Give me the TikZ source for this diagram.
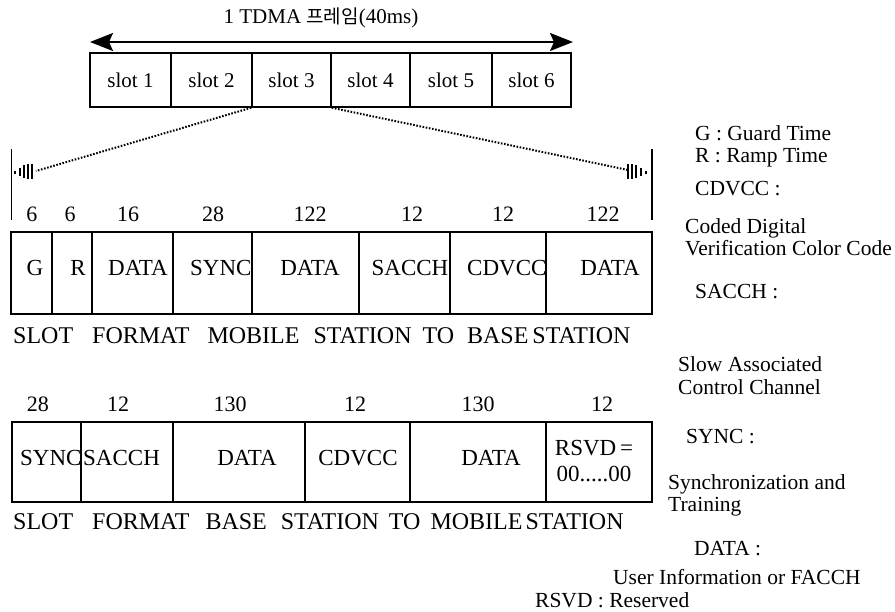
\documentclass[tikz,border=0pt]{standalone}
\usepackage{fontspec}
\setmainfont{Liberation Serif}
\newfontfamily\kr{Noto Sans CJK KR}
\usetikzlibrary{arrows.meta}
\begin{document}
\begin{tikzpicture}[x=1pt,y=-1pt,
  slotbox/.style={draw, line width=1.5pt, inner sep=0pt, minimum height=54pt, font=\fontsize{21}{23}\selectfont},
  cellline/.style={line width=1.7pt},
  lbl/.style={inner sep=0pt, font=\fontsize{23}{25}\selectfont},
  num/.style={inner sep=0pt, font=\fontsize{22}{24}\selectfont},
  leg/.style={inner sep=0pt, anchor=west, font=\fontsize{21.5}{23}\selectfont},
  fmt/.style={inner sep=0pt, anchor=west, font=\fontsize{24}{26}\selectfont},
  dots/.style={line width=2pt, dash pattern=on 1.6pt off 1.6pt},
  bar/.style={line width=1.9pt},
  tick/.style={line width=1.1pt},
  ]
\useasboundingbox (0,0) rectangle (895,612);

% title and frame arrow
\node[inner sep=0pt, font=\fontsize{21}{23}\selectfont] (title) at (321,18) {1 TDMA {\kr\fontsize{19}{21}\selectfont 프레임}(40ms)};
\coordinate (al) at (90,42);
\coordinate (ar) at (573,42);
\draw[line width=2pt, {Stealth[length=23pt,width=18pt,inset=4pt]}-{Stealth[length=23pt,width=18pt,inset=4pt]}] (al) -- (ar);

% slots
\node[slotbox, minimum width=81pt] (s1) at (130.5,80) {slot 1};
\node[slotbox, minimum width=81pt] (s2) at (211.5,80) {slot 2};
\node[slotbox, minimum width=79pt] (s3) at (291.5,80) {slot 3};
\node[slotbox, minimum width=79pt] (s4) at (370.5,80) {slot 4};
\node[slotbox, minimum width=82pt] (s5) at (451,80) {slot 5};
\node[slotbox, minimum width=79pt] (s6) at (531.5,80) {slot 6};

% expansion
\coordinate (lend) at (36,171);
\coordinate (rend) at (628,170);
\draw[dots] (s3.south west) -- (lend);
\draw[dots] (s3.south east) -- (rend);
\coordinate (lbt) at (11.5,149); \coordinate (lbb) at (11.5,220);
\coordinate (rbt) at (652,149); \coordinate (rbb) at (652,220);
\draw[bar] (lbt) -- (lbb);
\draw[bar] (rbt) -- (rbb);
% ramp ticks
\draw[tick] (15,171) -- (15,174);
\draw[tick] (20,168) -- (20,176);
\draw[tick] (24,165) -- (24,178);
\draw[tick] (28,164) -- (28,179);
\draw[tick] (32,164) -- (32,179);
\draw[tick] (628,164) -- (628,179);
\draw[tick] (632,164) -- (632,179);
\draw[tick] (636,165) -- (636,178);
\draw[tick] (641,168) -- (641,176);
\draw[tick] (646,171) -- (646,174);

% mobile -> base numbers
\node[num] (m1n) at (32,214) {6};
\node[num] (m2n) at (70,214) {6};
\node[num] (m3n) at (128,214) {16};
\node[num] (m4n) at (213,214) {28};
\node[num] (m5n) at (310,214) {122};
\node[num] (m6n) at (412,214) {12};
\node[num] (m7n) at (503,214) {12};
\node[num] (m8n) at (603,214) {122};

% mobile -> base texts
\node[lbl] (m1t) at (35,268) {G};
\node[lbl] (m2t) at (78,268) {R};
\node[lbl, anchor=west] (m3t) at (108,268) {DATA};
\node[lbl, anchor=west] (m4t) at (190,268) {SYNC};
\node[lbl] (m5t) at (310,268) {DATA};
\node[lbl] (m6t) at (410,268) {SACCH};
\node[lbl, anchor=west] (m7t) at (467,268) {CDVCC};
\node[lbl] (m8t) at (610,268) {DATA};

% mobile -> base cells
\foreach \a/\b in {11/52,52/92,92/173,173/252,252/359,359/450,450/546,546/652}
  \draw[cellline] (\a,232) rectangle (\b,314);

\node[fmt] (mfmt) at (13,336) {SLOT\hspace{19pt}FORMAT\hspace{18pt}MOBILE\hspace{14pt}STATION\hspace{11pt}TO\hspace{13pt}BASE\hspace{4pt}STATION};

% base -> mobile numbers
\node[num] (b1n) at (38,404) {28};
\node[num] (b2n) at (118,404) {12};
\node[num] (b3n) at (230,404) {130};
\node[num] (b4n) at (355,404) {12};
\node[num] (b5n) at (478,404) {130};
\node[num] (b6n) at (602,404) {12};

% base -> mobile texts
\node[lbl, anchor=west] (b1t) at (20,458) {SYNC};
\node[lbl, anchor=west] (b2t) at (83,458) {SACCH};
\node[lbl] (b3t) at (247,458) {DATA};
\node[lbl] (b4t) at (358,458) {CDVCC};
\node[lbl] (b5t) at (491,458) {DATA};
\node[lbl] (b6t) at (594,448) {RSVD\,=};
\node[lbl] (b6u) at (594,474) {00.....00};

\foreach \a/\b in {12/81,81/173,173/305,305/410,410/546,546/652}
  \draw[cellline] (\a,422) rectangle (\b,502);

\node[fmt] (bfmt) at (13,522) {SLOT\hspace{19pt}FORMAT\hspace{16pt}BASE\hspace{14pt}STATION\hspace{10pt}TO\hspace{10pt}MOBILE\hspace{3pt}STATION};

% legend
\node[leg] (lg1) at (695,133) {G : Guard Time};
\node[leg] (lg2) at (695,158) {R : Ramp Time};
\node[leg] (lg3) at (695,189) {CDVCC :};
\node[leg] (lg4) at (685,228) {Coded Digital};
\node[leg] (lg5) at (685,248) {Verification Color Code};
\node[leg] (lg6) at (695,292) {SACCH :};
\node[leg] (lg7) at (678,364) {Slow Associated};
\node[leg] (lg8) at (678,387) {Control Channel};
\node[leg] (lg9) at (686,437) {SYNC :};
\node[leg] (lg10) at (668,484) {Synchronization and};
\node[leg] (lg11) at (668,507) {Training};
\node[leg] (lg12) at (694,549) {DATA :};
\node[leg] (lg13) at (613,577) {User Information or FACCH};
\node[leg] (lg14) at (535,600) {RSVD : Reserved};
\end{tikzpicture}
\end{document}
